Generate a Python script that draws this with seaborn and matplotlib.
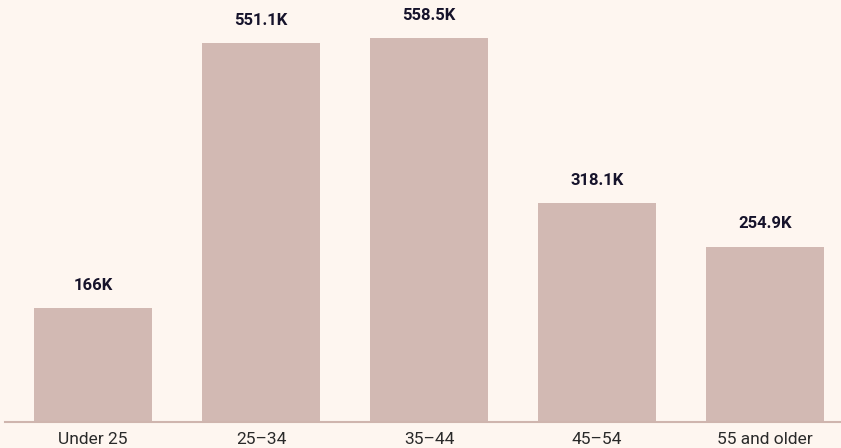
import matplotlib
matplotlib.use("Agg")
import matplotlib.pyplot as plt
import seaborn as sns
import pandas as pd

# data (thousands)
age_groups = ["Under 25", "25\u201334", "35\u201344", "45\u201354", "55 and older"]
counts_k = [166.0, 551.1, 558.5, 318.1, 254.9]
value_labels = ["166K", "551.1K", "558.5K", "318.1K", "254.9K"]

bg = "#fef6f0"
bar_color = "#d2b9b3"
text_color = "#16132b"

sns.set_theme(style="white")
plt.rcParams["font.family"] = ["Roboto", "DejaVu Sans"]

df = pd.DataFrame({"age": age_groups, "count": counts_k})

fig = plt.figure(figsize=(8.41, 4.48), dpi=100, facecolor=bg)
ax = fig.add_axes([5 / 841, 1 - 422 / 448, 836 / 841, 422 / 448])
ax.set_facecolor(bg)

sns.barplot(data=df, x="age", y="count", color=bar_color, width=0.70,
            saturation=1, edgecolor="none", linewidth=0, ax=ax)

ax.set_xlim(-0.524, 4.452)
ax.set_ylim(0, 613.7)

for i, (v, lab) in enumerate(zip(counts_k, value_labels)):
    ax.annotate(lab, (i, v), xytext=(0, 11), textcoords="offset points",
                ha="center", va="bottom", fontsize=12, fontweight="bold",
                color=text_color)

for s in ["top", "right", "left"]:
    ax.spines[s].set_visible(False)
ax.spines["bottom"].set_color("#cfb5ae")
ax.spines["bottom"].set_linewidth(1.5)
ax.set_yticks([])
ax.set_xlabel("")
ax.set_ylabel("")
ax.tick_params(axis="x", length=0, pad=7, labelsize=12.5, labelcolor="#2a2a2a")

fig.savefig("out.png", dpi=100, facecolor=bg)
